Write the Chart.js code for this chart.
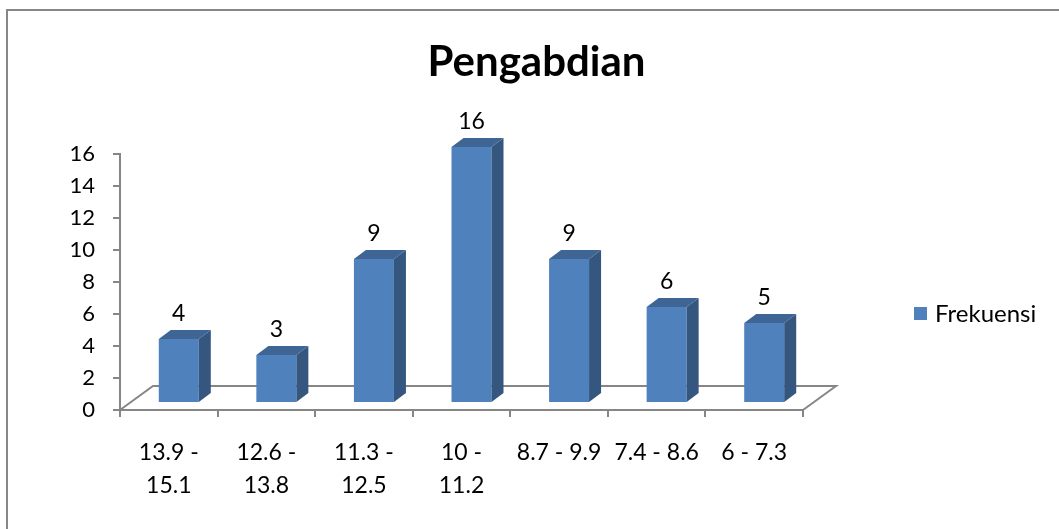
<!DOCTYPE html>
<html><head><meta charset="utf-8">
<script src="https://cdn.jsdelivr.net/npm/chart.js@4.4.1/dist/chart.umd.min.js"></script>
<style>html,body{margin:0;padding:0;background:#fff;}#wrap{width:1059px;height:529px;position:relative;}</style>
</head><body><div id="wrap"><canvas id="c" width="1059" height="529"></canvas></div>
<script>
const titleText = 'Pengabdian';
const seriesName = 'Frekuensi';
const categories = [['13.9 -', '15.1'], ['12.6 -', '13.8'], ['11.3 -', '12.5'], ['10 -', '11.2'], '8.7 - 9.9', '7.4 - 8.6', '6 - 7.3'];
const frekuensi = [4, 3, 9, 16, 9, 6, 5];
const yMin = 0, yMax = 16, yStep = 2;

const FONT = 'Lato, "Open Sans", sans-serif';
const AXIS = '#868686';
const FRONT = '#4f81bd', SIDE = '#34567f', TOP = '#3e6594';
const FLOOR_DX = 33, FLOOR_DY = 24;   // floor depth projection
const SHIFT_X = 10, SHIFT_Y = -7;     // bar row sits mid-depth of the floor
const BAR_DX = 12, BAR_DY = 9;        // bar depth projection

const threeD = {
  id: 'threeD',
  beforeDraw(chart) {
    const ctx = chart.ctx;
    ctx.save();
    ctx.strokeStyle = '#878787';
    ctx.lineWidth = 2;
    ctx.beginPath();
    ctx.moveTo(7, chart.height);
    ctx.lineTo(7, 10);
    ctx.lineTo(chart.width, 10);
    ctx.stroke();
    ctx.restore();
  },
  beforeDatasetsDraw(chart) {
    const ctx = chart.ctx;
    const xs = chart.scales.x, ys = chart.scales.y;
    const b = ys.getPixelForValue(yMin);
    ctx.save();
    ctx.strokeStyle = AXIS;
    ctx.lineWidth = 2;
    ctx.beginPath();
    ctx.moveTo(xs.left, b);
    ctx.lineTo(xs.left + FLOOR_DX, b - FLOOR_DY);
    ctx.lineTo(xs.right + FLOOR_DX, b - FLOOR_DY);
    ctx.lineTo(xs.right, b);
    ctx.stroke();
    ctx.restore();
    ctx.save();
    ctx.translate(SHIFT_X, SHIFT_Y);
  },
  afterDatasetsDraw(chart) {
    const ctx = chart.ctx;
    const meta = chart.getDatasetMeta(0);
    const ds = chart.data.datasets[0];
    meta.data.forEach((bar, i) => {
      const p = bar.getProps(['x', 'y', 'base', 'width'], true);
      const l = p.x - p.width / 2, r = p.x + p.width / 2;
      ctx.fillStyle = SIDE;
      ctx.beginPath();
      ctx.moveTo(r, p.y); ctx.lineTo(r + BAR_DX, p.y - BAR_DY);
      ctx.lineTo(r + BAR_DX, p.base - BAR_DY); ctx.lineTo(r, p.base);
      ctx.closePath(); ctx.fill();
      ctx.fillStyle = TOP;
      ctx.beginPath();
      ctx.moveTo(l, p.y); ctx.lineTo(l + BAR_DX, p.y - BAR_DY);
      ctx.lineTo(r + BAR_DX, p.y - BAR_DY); ctx.lineTo(r, p.y);
      ctx.closePath(); ctx.fill();
      ctx.fillStyle = '#000';
      ctx.font = '23px ' + FONT;
      ctx.textAlign = 'center';
      ctx.textBaseline = 'alphabetic';
      ctx.fillText(String(ds.data[i]), p.x, p.y - BAR_DY - 9);
    });
    ctx.restore();

    // title
    ctx.save();
    ctx.fillStyle = '#000';
    ctx.font = 'bold 42px ' + FONT;
    ctx.textAlign = 'center';
    ctx.textBaseline = 'alphabetic';
    ctx.fillText(titleText, 536.5, 76);
    // legend
    ctx.fillStyle = FRONT;
    ctx.fillRect(914, 307, 13, 13);
    ctx.fillStyle = '#000';
    ctx.font = '24px ' + FONT;
    ctx.textAlign = 'left';
    ctx.textBaseline = 'middle';
    ctx.fillText(seriesName, 935, 314);
    ctx.restore();
  }
};

new Chart(document.getElementById('c'), {
  type: 'bar',
  data: {
    labels: categories,
    datasets: [{
      label: seriesName,
      data: frekuensi,
      backgroundColor: FRONT,
      borderWidth: 0,
      categoryPercentage: 1,
      barPercentage: 0.41
    }]
  },
  options: {
    responsive: false,
    animation: false,
    devicePixelRatio: 1,
    layout: { padding: { left: 0, top: 154, right: 256, bottom: 0 } },
    plugins: { legend: { display: false }, title: { display: false }, tooltip: { enabled: false } },
    scales: {
      x: {
        grid: { display: true, drawOnChartArea: false, offset: true, tickLength: 7, color: AXIS, lineWidth: 2 },
        border: { display: true, color: AXIS, width: 2 },
        ticks: { font: { family: FONT, size: 23, lineHeight: 1.435 }, color: '#000', padding: 19, maxRotation: 0, autoSkip: false },
        afterFit: s => { s.height = 119; }
      },
      y: {
        min: yMin, max: yMax,
        grid: { display: true, drawOnChartArea: false, tickLength: 7, color: AXIS, lineWidth: 2 },
        border: { display: true, color: AXIS, width: 2 },
        ticks: { stepSize: yStep, font: { family: FONT, size: 22 }, color: '#000', padding: 18 },
        afterFit: s => { s.width = 120; }
      }
    }
  },
  plugins: [threeD]
});
</script>
</body></html>
